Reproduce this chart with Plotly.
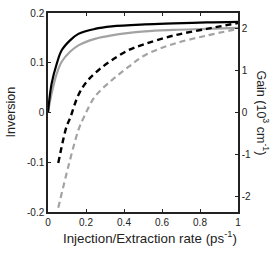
import plotly.graph_objects as go

# Inversion (left axis)
solid_black_x = [0.0, 0.019, 0.046, 0.072, 0.116, 0.16, 0.247, 0.335, 0.51, 0.66, 0.835, 1.0]
solid_black_y = [0.0, 0.058, 0.098, 0.125, 0.145, 0.158, 0.168, 0.173, 0.177, 0.179, 0.181, 0.182]
solid_gray_x = [0.0, 0.019, 0.046, 0.072, 0.116, 0.16, 0.247, 0.335, 0.51, 0.66, 0.835, 1.0]
solid_gray_y = [0.0, 0.038, 0.078, 0.102, 0.122, 0.135, 0.148, 0.155, 0.163, 0.166, 0.168, 0.17]

# Gain (right axis, 10^3 cm^-1)
dash_black_x = [0.054, 0.098, 0.116, 0.16, 0.204, 0.265, 0.335, 0.423, 0.51, 0.66, 0.835, 1.0]
dash_black_y = [-1.21, -0.33, -0.14, 0.42, 0.74, 1.01, 1.25, 1.49, 1.64, 1.84, 2.0, 2.14]
dash_gray_x = [0.054, 0.107, 0.16, 0.186, 0.247, 0.335, 0.423, 0.51, 0.66, 0.835, 1.0]
dash_gray_y = [-2.28, -1.29, -0.42, -0.14, 0.38, 0.77, 1.09, 1.37, 1.64, 1.84, 2.0]

x_ticks = [0, 0.2, 0.4, 0.6, 0.8, 1]
x_tick_text = ["0", "0.2", "0.4", "0.6", "0.8", "1"]
inv_ticks = [-0.2, -0.1, 0, 0.1, 0.2]
inv_tick_text = ["-0.2", "-0.1", "0", "0.1", "0.2"]
gain_ticks = [-2, -1, 0, 1, 2]
gain_tick_text = ["-2", "-1", "0", "1", "2"]

BLACK = "#000000"
GRAY = "#a3a3a3"

fig = go.Figure()
fig.add_trace(go.Scatter(x=solid_gray_x, y=solid_gray_y, mode="lines",
                         line=dict(color=GRAY, width=2.2, shape="spline")))
fig.add_trace(go.Scatter(x=solid_black_x, y=solid_black_y, mode="lines",
                         line=dict(color=BLACK, width=2.2, shape="spline")))
fig.add_trace(go.Scatter(x=dash_gray_x, y=dash_gray_y, mode="lines", yaxis="y2",
                         line=dict(color=GRAY, width=2.2, shape="spline", dash="6px,4px")))
fig.add_trace(go.Scatter(x=dash_black_x, y=dash_black_y, mode="lines", yaxis="y2",
                         line=dict(color=BLACK, width=2.4, shape="spline", dash="6px,4px")))

font = "Liberation Sans, Arial, sans-serif"
fig.update_layout(
    width=275, height=253,
    margin=dict(l=48, r=37, t=13, b=41, autoexpand=False),
    paper_bgcolor="white", plot_bgcolor="white",
    showlegend=False,
    font=dict(family=font, size=10, color="#222"),
    xaxis=dict(range=[0, 1], tickvals=x_ticks, ticktext=x_tick_text, automargin=False,
               ticks="inside", ticklen=3, tickwidth=1, tickcolor="#222",
               showline=True, linecolor="#222", linewidth=1.5, mirror="ticks",
               showgrid=False, zeroline=False, tickfont=dict(size=10)),
    yaxis=dict(range=[-0.2, 0.2], tickvals=inv_ticks, ticktext=inv_tick_text, automargin=False,
               ticks="inside", ticklen=3, tickwidth=1, tickcolor="#222",
               showline=True, linecolor="#222", linewidth=1.5,
               showgrid=False, zeroline=False, tickfont=dict(size=10)),
    yaxis2=dict(range=[-2.38, 2.38], overlaying="y", side="right", automargin=False,
                tickvals=gain_ticks, ticktext=gain_tick_text,
                ticks="inside", ticklen=3, tickwidth=1, tickcolor="#222",
                showline=True, linecolor="#222", linewidth=1.5,
                showgrid=False, zeroline=False, tickfont=dict(size=10)),
    annotations=[
        dict(text="Inversion", xref="paper", yref="paper",
             x=-0.2, y=0.5, xanchor="center", yanchor="middle", textangle=-90, showarrow=False,
             font=dict(size=12.5, color="#222")),
        dict(text="Injection/Extraction rate (ps<sup>-1</sup>)", xref="paper", yref="paper",
             x=0.537, y=-0.126, xanchor="center", yanchor="middle", showarrow=False,
             font=dict(size=13.3, color="#222")),
        dict(text="Gain (10<sup>3</sup> cm<sup>-1</sup>)", xref="paper", yref="paper",
             x=1.132, y=0.5, xanchor="center", yanchor="middle", textangle=90, showarrow=False,
             font=dict(size=12.5, color="#222")),
    ],
)

fig.write_html("out.html", config={"displayModeBar": False},
               post_script="document.body.style.margin='0px';")
